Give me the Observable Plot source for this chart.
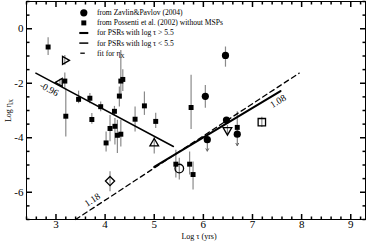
<!DOCTYPE html>
<html><head><meta charset="utf-8">
<script src="https://cdn.jsdelivr.net/npm/d3@7"></script>
<script src="https://cdn.jsdelivr.net/npm/@observablehq/plot@0.6"></script>
<style>body{margin:0;background:#fff} svg{display:block}</style>
</head><body><div id="chart"></div><script>
// ---- data ----
const xDomain = [2.4, 9.3];
const yDomain = [-7, 1];
const xMajor = [3, 4, 5, 6, 7, 8, 9];
const yMajor = [-6, -4, -2, 0];
const xMinor = d3.range(24, 93, 2).map(d => d / 10);
const yMinor = d3.range(-14, 3, 1).map(d => d / 2);

// Zavlin & Pavlov (2004) - filled circles
const zpX = [6.04, 6.45, 6.08, 6.47, 6.69];
const zpY = [-2.48, -0.98, -4.07, -3.35, -3.87];
const zpLo = [-2.92, -1.41, null, null, null];
const zpHi = [-2.08, -0.67, null, null, null];
const zpUpper = [false, false, true, false, true];

// Possenti et al. (2002) without MSPs - filled squares
const psX = [2.84, 3.18, 3.20, 3.46, 3.69, 3.73, 3.91, 4.02, 4.10, 4.19, 4.20, 4.25, 4.32, 4.29, 4.32, 4.36, 4.61, 4.80, 5.03, 5.44, 5.75, 5.72, 5.79, 6.69];
const psY = [-0.67, -1.92, -3.21, -2.59, -2.55, -3.33, -2.86, -4.19, -3.66, -3.03, -3.58, -3.91, -3.87, -2.47, -1.92, -1.86, -3.32, -2.83, -3.40, -4.97, -2.89, -4.97, -5.35, -3.62];
const psLo = [-0.98, -2.2, -3.97, -2.75, -2.75, -3.5, -3.05, -4.52, -4.15, -3.2, -4.27, -4.58, -4.34, -2.87, -2.6, -2.3, -3.79, -3.18, -3.66, -5.48, -3.7, -5.37, -5.92, -3.87];
const psHi = [-0.33, -1.62, -2.2, -2.29, -2.38, -3.11, -2.69, -3.79, -3.18, -2.85, -3.29, -3.36, -3.36, -2.14, -0.8, -1.5, -2.87, -2.32, -3.1, -4.46, -1.71, -4.52, -4.89, -3.05];

// individual objects - open symbols
const opX = [3.18, 3.08, 5.00, 5.51, 4.10, 6.49, 7.19];
const opY = [-1.16, -1.97, -4.21, -5.13, -5.59, -3.72, -3.43];
const opLo = [-1.34, -2.1, -4.6, -5.55, -5.98, -3.9, -3.62];
const opHi = [-0.98, -1.85, -3.98, -4.75, -5.25, -3.55, -3.25];
const opShape = ["triangle-right", "triangle-left", "triangle-up", "circle", "diamond", "triangle-down", "square"];

// fits
const fitYoungX = [2.59, 5.39], fitYoungY = [-1.63, -4.32];
const fitOldX = [5.0, 7.57], fitOldY = [-5.07, -2.29];
const fitAllX = [3.4, 7.95], fitAllY = [-7.0, -1.63];
const slopeText = ["-0.96", "1.18", "1.08"];
const slopeX = [2.86, 3.74, 7.52];
const slopeY = [-2.22, -6.28, -2.66];
const slopeRot = [28, -33, -31];

const legendLabels = ["from Zavlin&Pavlov (2004)", "from Possenti et al. (2002) without MSPs",
  "for PSRs with log \u03c4 > 5.5", "for PSRs with log \u03c4 < 5.5", "fit for \u03b7_X"];

// ---- symbols ----
const seg = (x1, y1) => ({draw(c) { c.moveTo(0, 0); c.lineTo(x1, y1); }});
const hSeg = (a, b) => ({draw(c) { c.moveTo(a, 0); c.lineTo(b, 0); }});
function tri(rot, R) {
  return {draw(c) {
    const a = rot * Math.PI / 180;
    [-90, 30, 150].forEach((d, i) => {
      const t = d * Math.PI / 180 + a;
      const px = R * Math.cos(t), py = R * Math.sin(t);
      i ? c.lineTo(px, py) : c.moveTo(px, py);
    });
    c.closePath();
  }};
}
const symMap = {
  "triangle-right": tri(90, 4.6),
  "triangle-left": tri(-90, 4.6),
  "triangle-up": tri(0, 5),
  "triangle-down": tri(180, 5),
  "circle": {draw(c) { c.moveTo(4.3, 0); c.arc(0, 0, 4.3, 0, 2 * Math.PI); }},
  "diamond": {draw(c) { c.moveTo(0, -4.6); c.lineTo(4.6, 0); c.lineTo(0, 4.6); c.lineTo(-4.6, 0); c.closePath(); }},
  "square": {draw(c) { c.rect(-3.7, -3.7, 7.4, 7.4); }}
};

const zp = zpX.map((x, i) => ({x, y: zpY[i], lo: zpLo[i], hi: zpHi[i], ul: zpUpper[i]}));
const ps = psX.map((x, i) => ({x, y: psY[i], lo: psLo[i], hi: psHi[i]}));
const op = opX.map((x, i) => ({x, y: opY[i], lo: opLo[i], hi: opHi[i], s: opShape[i]}));
const toPts = (xs, ys) => xs.map((x, i) => ({x, y: ys[i]}));
const slopes = slopeText.map((t, i) => ({t, x: slopeX[i], y: slopeY[i], r: slopeRot[i]}));

const fmt = d => (d < 0 ? "-" + Math.abs(d) : String(d));
const font = "Liberation Serif";
const legendDy = i => 11.3 + i * 10.1;

const marks = [
  Plot.frame({stroke: "black", strokeWidth: 1}),
  // ticks (inward)
  Plot.dot(xMajor, {x: d => d, y: yDomain[0], symbol: seg(0, -5.5), stroke: "black", fill: "none"}),
  Plot.dot(xMinor.filter(d => !xMajor.includes(d)), {x: d => d, y: yDomain[0], symbol: seg(0, -3), stroke: "black", fill: "none"}),
  Plot.dot(xMajor, {x: d => d, y: yDomain[1], symbol: seg(0, 5.5), stroke: "black", fill: "none"}),
  Plot.dot(xMinor.filter(d => !xMajor.includes(d)), {x: d => d, y: yDomain[1], symbol: seg(0, 3), stroke: "black", fill: "none"}),
  Plot.dot(yMajor, {y: d => d, x: xDomain[0], symbol: seg(5.5, 0), stroke: "black", fill: "none"}),
  Plot.dot(yMinor.filter(d => !yMajor.includes(d)), {y: d => d, x: xDomain[0], symbol: seg(3, 0), stroke: "black", fill: "none"}),
  Plot.dot(yMajor, {y: d => d, x: xDomain[1], symbol: seg(-5.5, 0), stroke: "black", fill: "none"}),
  Plot.dot(yMinor.filter(d => !yMajor.includes(d)), {y: d => d, x: xDomain[1], symbol: seg(-3, 0), stroke: "black", fill: "none"}),
  // tick labels
  Plot.axisX(xMajor, {tickSize: 0, tickPadding: 1, fontSize: 11, label: null, tickFormat: fmt}),
  Plot.axisY(yMajor, {tickSize: 0, tickPadding: 3, fontSize: 11, label: null, tickFormat: fmt}),
  Plot.text(["Log \u03c4 (yrs)"], {frameAnchor: "bottom", dx: 3, dy: 19, fontSize: 8, textAnchor: "middle"}),
  Plot.text(["Log \u03b7_X"], {frameAnchor: "left", dx: -18, dy: 0, rotate: -90, fontSize: 8, textAnchor: "middle"}),
  // error bars
  Plot.ruleX(ps, {x: "x", y1: "lo", y2: "hi", stroke: "#8a8a8a", strokeWidth: 1.2}),
  Plot.ruleX(zp.filter(d => d.lo != null), {x: "x", y1: "lo", y2: "hi", stroke: "#8a8a8a", strokeWidth: 1.2}),
  Plot.ruleX(op, {x: "x", y1: "lo", y2: "hi", stroke: "#8a8a8a", strokeWidth: 1.2}),
  Plot.arrow(zp.filter(d => d.ul), {x1: "x", y1: "y", x2: "x", y2: d => d.y - 0.42, stroke: "#666", strokeWidth: 1, headLength: 4, bend: 0}),
  // fits
  Plot.line(toPts(fitYoungX, fitYoungY), {x: "x", y: "y", stroke: "black", strokeWidth: 1.5}),
  Plot.line(toPts(fitAllX, fitAllY), {x: "x", y: "y", stroke: "black", strokeWidth: 1.3, strokeDasharray: "5,3.6"}),
  Plot.line(toPts(fitOldX, fitOldY), {x: "x", y: "y", stroke: "black", strokeWidth: 2.1}),
  Plot.text(slopes, {x: "x", y: "y", text: "t", rotate: "r", fontSize: 9.5}),
  // points
  Plot.dot(ps, {x: "x", y: "y", symbol: "square", r: 2.8, fill: "black"}),
  Plot.dot(zp, {x: "x", y: "y", symbol: "circle", r: 3.6, fill: "black"}),
  Plot.dot(op, {x: "x", y: "y", symbol: d => symMap[d.s], fill: "none", stroke: "black", strokeWidth: 1.3}),
  // legend
  Plot.dot([0], {frameAnchor: "top-left", dx: 57.3, dy: legendDy(0), symbol: "circle", r: 3.6, fill: "black"}),
  Plot.dot([0], {frameAnchor: "top-left", dx: 57.3, dy: legendDy(1), symbol: "square", r: 2.8, fill: "black"}),
  Plot.dot([0], {frameAnchor: "top-left", dx: 57.3, dy: legendDy(2), symbol: hSeg(-4.5, 4.5), stroke: "black", strokeWidth: 2.1, fill: "none"}),
  Plot.dot([0], {frameAnchor: "top-left", dx: 57.3, dy: legendDy(3), symbol: hSeg(-4.5, 4.5), stroke: "black", strokeWidth: 1.5, fill: "none"}),
  Plot.dot([0], {frameAnchor: "top-left", dx: 57.3, dy: legendDy(4), symbol: hSeg(-3.5, 1), stroke: "black", strokeWidth: 1.3, fill: "none"}),
  ...legendLabels.map((t, i) => Plot.text([t], {frameAnchor: "top-left", dx: 70.5, dy: legendDy(i), textAnchor: "start", lineAnchor: "middle", fontSize: 7.6}))
];

const chart = Plot.plot({
  width: 371, height: 243,
  marginLeft: 26, marginRight: 6, marginTop: 1, marginBottom: 24,
  x: {domain: xDomain},
  y: {domain: yDomain},
  style: {fontFamily: font, background: "white", color: "black"},
  marks
});

// subscripts: "a_B" -> a + subscript B
chart.querySelectorAll("text").forEach(t => {
  const s = t.textContent;
  if (!s.includes("_")) return;
  const [main, sub] = s.split("_");
  const ts = t.querySelector("tspan");
  const target = ts || t;
  target.textContent = main;
  const sp = document.createElementNS("http://www.w3.org/2000/svg", "tspan");
  sp.setAttribute("dy", "2.2");
  sp.setAttribute("font-size", "5.5");
  sp.textContent = sub;
  target.appendChild(sp);
});
document.getElementById("chart").appendChild(chart);
</script></body></html>
